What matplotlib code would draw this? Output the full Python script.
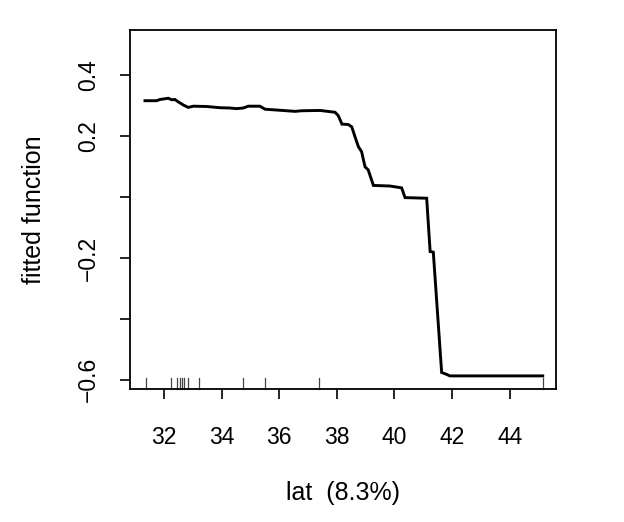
import matplotlib
matplotlib.use("Agg")
import matplotlib.pyplot as plt

plt.rcParams['font.family'] = ['Liberation Sans', 'DejaVu Sans']

lat = [31.34, 31.75, 31.86, 32.15, 32.27, 32.38, 32.50, 32.67, 32.84, 33.02, 33.48,
       33.94, 34.29, 34.52, 34.75, 34.93, 35.16, 35.33, 35.51, 35.97, 36.55, 36.78,
       37.42, 37.94, 38.05, 38.18, 38.40, 38.52, 38.63, 38.75, 38.86, 38.98, 39.09,
       39.27, 39.85, 40.25, 40.37, 41.12, 41.24, 41.35, 41.64, 41.76, 41.93, 45.15]
fitted = [0.316, 0.316, 0.320, 0.324, 0.319, 0.320, 0.312, 0.302, 0.294, 0.298, 0.297,
          0.293, 0.292, 0.290, 0.292, 0.298, 0.298, 0.298, 0.288, 0.285, 0.281, 0.283,
          0.284, 0.278, 0.267, 0.239, 0.238, 0.230, 0.198, 0.165, 0.149, 0.099, 0.089,
          0.038, 0.036, 0.030, -0.002, -0.004, -0.179, -0.181, -0.576, -0.580, -0.587, -0.587]
rug = [31.36, 32.24, 32.44, 32.56, 32.64, 32.70, 32.84, 33.23, 34.73, 35.52, 37.38, 45.15]

x_ticks = [32, 34, 36, 38, 40, 42, 44]
y_ticks = [0.4, 0.2, 0.0, -0.2, -0.4, -0.6]
y_tick_labels = ["0.4", "0.2", "", "\u22120.2", "", "\u22120.6"]

fig = plt.figure(figsize=(6.24, 5.22), dpi=100)
ax = fig.add_axes([130/624, 1-389/522, (556-130)/624, (389-30)/522])

ax.plot(lat, fitted, color='black', lw=2.1, solid_joinstyle='miter')

ax.set_xlim(30.82, 45.61)
ax.set_ylim(-0.63, 0.548)

# rug
trans = ax.get_xaxis_transform()
for r in rug:
    ax.plot([r, r], [0, 0.03], color='#444444', lw=0.9, transform=trans, clip_on=False)

tfs = 16.5
lfs = 18
ax.set_xticks(x_ticks)
ax.set_xticklabels([str(t) for t in x_ticks], fontsize=tfs)
ax.set_yticks(y_ticks)
ax.set_yticklabels(y_tick_labels, fontsize=tfs, rotation=90, va='center')
ax.tick_params(axis='both', direction='out', length=7.5, width=1.2, color='black')
ax.tick_params(axis='x', pad=19)
ax.tick_params(axis='y', pad=14.3)

for s in ax.spines.values():
    s.set_linewidth(1.3)

ax.set_xlabel("lat  (8.3%)", fontsize=lfs, labelpad=23)
ax.set_ylabel("fitted function", fontsize=lfs, labelpad=21.8)

fig.savefig("out.png", dpi=100)
